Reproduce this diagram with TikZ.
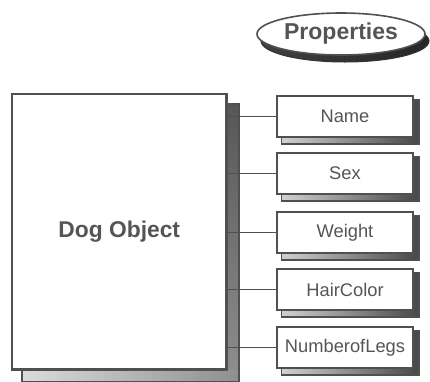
\documentclass[tikz,border=0pt]{standalone}
\usepackage{fontspec}
\setmainfont{Liberation Sans}
\usetikzlibrary{shapes.geometric,backgrounds}
\definecolor{linegray}{HTML}{505050}
\definecolor{textgray}{HTML}{555555}
\begin{document}
\begin{tikzpicture}[x=1pt, y=-1pt,
    every node/.style={draw=linegray, fill=white, text=textgray, inner sep=0pt},
    prop/.style={rectangle, line width=1.8pt, minimum width=136pt, minimum height=41pt, font=\fontsize{18.3}{20}\selectfont},
    link/.style={draw=linegray, line width=1.9pt}]
            \useasboundingbox (0,0) rectangle (430,381);

            % Oggetto principale
            \node (dog) at (119.25,231.75) [rectangle, line width=2.2pt, minimum width=214.5pt, minimum height=275.5pt, font=\bfseries\fontsize{22.8}{24}\selectfont] {Dog Object};

            % Titolo
            \node (props) at (341,34) [ellipse, line width=1.6pt, minimum width=168pt, minimum height=42pt, font=\bfseries\fontsize{23}{24}\selectfont] {Properties};

            % Proprieta
            \node (name) at (345,116.5) [prop] {Name};
            \node (sex) at (345,173.5) [prop] {Sex};
            \node (weight) at (345,232.5) [prop] {Weight};
            \node (hair) at (345,289.5) [prop] {HairColor};
            \node (legs) at (345,347.5) [prop] {NumberofLegs};

            % Ombre
            \begin{pgfonlayer}{background}
                \shade[top color=black!66, bottom color=black!44]
                    ([yshift=-11pt]dog.north east) rectangle ([xshift=11pt,yshift=-11pt]dog.south east);
                \shade[left color=black!14, right color=black!44]
                    ([xshift=11pt]dog.south west) rectangle ([xshift=11pt,yshift=-11pt]dog.south east);
                \draw[linegray, line width=1.8pt]
                    ([yshift=-11pt]dog.north east) -| ([xshift=11pt,yshift=-11pt]dog.south east) -| ([xshift=11pt]dog.south west);
                \shade[left color=black!75, middle color=black!40, right color=black!85, draw=black!80, line width=1pt]
                    ([xshift=4pt,yshift=-7pt]props.center) ellipse (84pt and 21pt);
                \foreach \n in {name,sex,weight,hair,legs}
                    \shade[left color=black!18, right color=black!72, draw=linegray, line width=1.2pt]
                        ([xshift=5pt,yshift=-4pt]\n.north west) rectangle ([xshift=5pt,yshift=-6pt]\n.south east);
            \end{pgfonlayer}

            % Collegamenti
            \draw[link] (dog.east |- name) -- (name.west);
            \draw[link] (dog.east |- sex) -- (sex.west);
            \draw[link] (dog.east |- weight) -- (weight.west);
            \draw[link] (dog.east |- hair) -- (hair.west);
            \draw[link] (dog.east |- legs) -- (legs.west);
        \end{tikzpicture}
\end{document}
